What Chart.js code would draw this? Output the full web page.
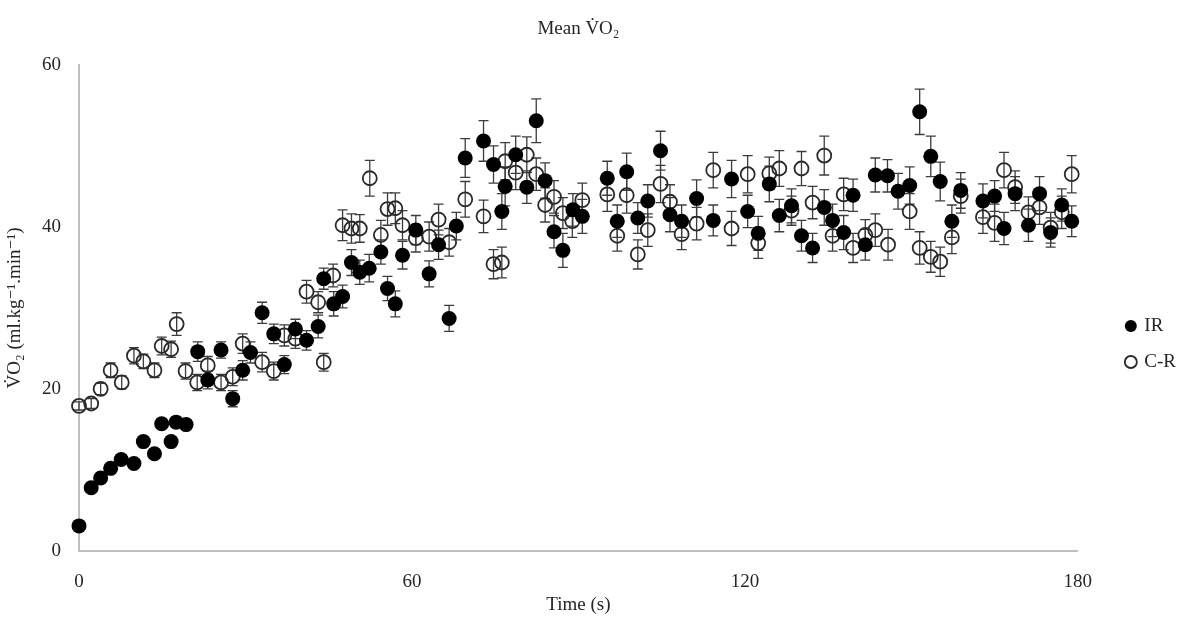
<!DOCTYPE html>
<html>
<head>
<meta charset="utf-8">
<title>Mean VO2</title>
<script src="https://cdn.jsdelivr.net/npm/chart.js@4.4.1/dist/chart.umd.min.js"></script>
<style>
  html, body { margin: 0; padding: 0; background: #fff; }
  #wrap { width: 1190px; height: 626px; }
</style>
</head>
<body>
<div id="wrap"><canvas id="vo2Chart"></canvas></div>
<script>
// IR series: time (s), mean VO2, SD
const irTime = [0.0, 2.2, 3.9, 5.7, 7.6, 9.9, 11.6, 13.6, 14.9, 16.6, 17.5, 19.3,
  21.4, 23.2, 25.6, 27.7, 29.5, 30.9, 33.0, 35.1, 37.0, 39.0, 41.0, 43.1, 44.1,
  45.9, 47.5, 49.1, 50.6, 52.3, 54.4, 55.6, 57.0, 58.3, 60.7, 63.1, 64.8, 66.7, 68.0,
  69.6, 72.9, 74.7, 76.2, 76.8, 78.7, 80.7, 82.4, 84.0, 85.6, 87.2, 89.0, 90.7,
  95.2, 97.0, 98.7, 100.7, 102.5, 104.8, 106.5, 108.6, 111.3, 114.3, 117.6, 120.5,
  122.4, 124.4, 126.2, 128.4, 130.2, 132.2, 134.3, 135.8, 137.8, 139.5, 141.7, 143.5,
  145.7, 147.6, 149.7, 151.5, 153.5, 155.2, 157.3, 158.9, 162.9, 165.0, 166.7, 168.7,
  171.1, 173.1, 175.1, 177.1, 178.9];
const irVO2 = [3.1, 7.8, 9.0, 10.2, 11.3, 10.8, 13.5, 12.0, 15.7, 13.5, 15.9, 15.6,
  24.6, 21.1, 24.8, 18.8, 22.3, 24.5, 29.4, 26.8, 23.0, 27.4, 26.0, 27.7, 33.6,
  30.5, 31.4, 35.6, 34.4, 34.9, 36.9, 32.4, 30.5, 36.5, 39.6, 34.2, 37.8, 28.7, 40.1,
  48.5, 50.6, 47.7, 41.9, 45.0, 48.9, 44.9, 53.1, 45.7, 39.4, 37.1, 42.1, 41.3,
  46.0, 40.7, 46.8, 41.1, 43.2, 49.4, 41.5, 40.7, 43.5, 40.8, 45.9, 41.9,
  39.2, 45.3, 41.4, 42.6, 38.9, 37.4, 42.4, 40.8, 39.3, 43.9, 37.8, 46.4,
  46.3, 44.4, 45.1, 54.2, 48.7, 45.6, 40.7, 44.5, 43.2, 43.8, 39.8, 44.1,
  40.2, 44.1, 39.3, 42.7, 40.7];
const irSD = [0.4, 0.5, 0.5, 0.5, 0.6, 0.5, 0.6, 0.5, 0.6, 0.6, 0.6, 0.6,
  1.2, 1.1, 1.0, 1.0, 1.2, 1.3, 1.3, 1.2, 1.1, 1.2, 1.2, 1.4, 1.3,
  1.5, 1.4, 1.6, 1.5, 1.7, 1.5, 1.5, 1.6, 1.7, 1.8, 1.6, 1.8, 1.6, 1.7,
  2.4, 2.5, 2.3, 2.2, 2.4, 2.3, 2.0, 2.7, 2.2, 2.0, 2.1, 2.0, 2.1,
  2.1, 2.0, 2.3, 1.9, 2.0, 2.4, 2.1, 2.0, 2.3, 1.9, 2.3, 2.0,
  2.1, 2.2, 2.0, 2.1, 1.9, 1.8, 2.2, 2.0, 2.1, 2.0, 1.9, 2.1,
  2.0, 2.2, 2.3, 2.8, 2.5, 2.4, 2.0, 2.2, 2.1, 1.9, 2.0, 2.1,
  2.0, 2.1, 1.8, 2.0, 1.9];

// C-R series: time (s), mean VO2, SD
const crTime = [0.0, 2.2, 3.9, 5.7, 7.7, 9.9, 11.6, 13.6, 14.9, 16.6, 17.6, 19.2,
  21.3, 23.2, 25.6, 27.7, 29.5, 33.0, 35.1, 37.0, 39.0, 41.0, 43.1, 44.1, 45.8,
  47.5, 49.1, 50.6, 52.4, 54.4, 55.6, 57.0, 58.3, 60.7, 63.1, 64.8, 66.7,
  69.6, 72.9, 74.7, 76.2, 76.8, 78.7, 80.7, 82.4, 84.0, 85.6, 87.2, 88.9, 90.7,
  95.2, 97.0, 98.7, 100.7, 102.5, 104.8, 106.5, 108.6, 111.3, 114.3, 117.6, 120.5,
  122.4, 124.4, 126.2, 128.4, 130.2, 132.2, 134.3, 135.8, 137.8, 139.5, 141.7, 143.5,
  145.8, 149.7, 151.5, 153.5, 155.2, 157.3, 158.9, 162.9, 165.0, 166.7, 168.7,
  171.1, 173.1, 175.1, 177.1, 178.9];
const crVO2 = [17.9, 18.2, 20.0, 22.3, 20.8, 24.1, 23.4, 22.3, 25.3, 24.9, 28.0, 22.2,
  20.8, 22.9, 20.8, 21.5, 25.6, 23.3, 22.2, 26.6, 26.2, 32.0, 30.7, 23.3, 34.0,
  40.2, 39.8, 39.8, 46.0, 39.0, 42.2, 42.3, 40.2, 38.6, 38.8, 40.9, 38.1,
  43.4, 41.3, 35.4, 35.6, 48.1, 46.7, 48.9, 46.5, 42.7, 43.7, 41.7, 40.7, 43.3,
  44.0, 38.9, 43.9, 36.6, 39.6, 45.3, 43.1, 39.1, 40.4, 47.0, 39.8, 46.5,
  38.0, 46.6, 47.2, 42.0, 47.2, 43.0, 48.8, 38.9, 44.0, 37.4, 39.0, 39.6,
  37.8, 41.9, 37.4, 36.3, 35.7, 38.7, 43.8, 41.2, 40.5, 47.0, 44.9,
  41.8, 42.4, 39.9, 41.8, 46.5];
const crSD = [0.5, 0.6, 0.7, 0.9, 0.8, 1.0, 0.9, 0.9, 1.1, 1.0, 1.4, 1.0,
  1.0, 1.1, 1.0, 1.1, 1.2, 1.2, 1.1, 1.3, 1.2, 1.4, 1.3, 1.1, 1.4,
  1.9, 1.8, 1.7, 2.2, 1.8, 2.0, 1.9, 1.8, 1.7, 1.8, 1.9, 1.7,
  2.2, 2.0, 1.8, 1.9, 2.3, 2.1, 2.2, 2.0, 2.1, 2.0, 1.9, 2.0, 2.1,
  2.1, 1.9, 2.2, 1.8, 2.0, 2.3, 2.1, 1.9, 2.0, 2.2, 2.1, 2.3,
  1.9, 2.0, 2.2, 1.8, 2.1, 2.0, 2.4, 1.9, 2.0, 1.8, 1.9, 2.0,
  1.9, 2.2, 2.0, 1.9, 1.8, 2.0, 2.1, 2.0, 2.3, 2.2, 2.0,
  1.9, 2.1, 1.9, 2.0, 2.3];

const xTicks = [0, 60, 120, 180];
const yTicks = [0, 20, 40, 60];

const serif = "'Liberation Serif', 'DejaVu Serif', serif";
const textColor = '#262626';
const axisColor = '#bfbfbf';

function toPoints(times, values) {
  return times.map((t, i) => ({ x: t, y: values[i] }));
}

// error bars (+/- SD), drawn under the markers so filled dots hide their own bar
const errorBars = {
  id: 'errorBars',
  beforeDatasetsDraw(chart) {
    const ctx = chart.ctx;
    const xs = chart.scales.x;
    const ys = chart.scales.y;
    ctx.save();
    ctx.strokeStyle = '#3c3c3c';
    ctx.lineWidth = 1.3;
    chart.data.datasets.forEach((ds, i) => {
      if (!chart.isDatasetVisible(i)) return;
      ds.data.forEach((p, j) => {
        const e = ds.sd[j];
        const x = xs.getPixelForValue(p.x);
        const hi = ys.getPixelForValue(p.y + e);
        const lo = ys.getPixelForValue(p.y - e);
        ctx.beginPath();
        ctx.moveTo(x, hi); ctx.lineTo(x, lo);
        ctx.moveTo(x - 5, hi); ctx.lineTo(x + 5, hi);
        ctx.moveTo(x - 5, lo); ctx.lineTo(x + 5, lo);
        ctx.stroke();
      });
    });
    ctx.restore();
  }
};

// push the legend a bit right and down, where Excel put it
const legendNudge = {
  id: 'legendNudge',
  afterLayout(chart) {
    const lg = chart.legend;
    if (!lg) return;
    lg.left += 32; lg.right += 32;
    lg.top += 31; lg.bottom += 31;
  }
};

new Chart(document.getElementById('vo2Chart'), {
  type: 'scatter',
  data: {
    datasets: [
      {
        label: 'IR',
        data: toPoints(irTime, irVO2),
        sd: irSD,
        pointStyle: 'circle',
        pointRadius: 7.5,
        backgroundColor: '#000000',
        borderColor: '#000000',
        borderWidth: 0,
        pointBorderWidth: 0,
        clip: false
      },
      {
        label: 'C-R',
        data: toPoints(crTime, crVO2),
        sd: crSD,
        pointStyle: 'circle',
        pointRadius: 7,
        backgroundColor: 'rgba(0,0,0,0)',
        borderColor: '#2a2a2a',
        borderWidth: 1.3,
        pointBorderWidth: 1.8,
        clip: false
      }
    ]
  },
  options: {
    responsive: true,
    maintainAspectRatio: false,
    devicePixelRatio: 1,
    animation: false,
    events: [],
    layout: { padding: { left: 0, right: 36, top: 0, bottom: 0 } },
    plugins: {
      title: {
        display: true,
        fullSize: false,
        text: 'Mean V\u0307O\u2082',
        color: textColor,
        font: { family: serif, size: 19, weight: 'normal' },
        padding: { top: 18, bottom: 24 }
      },
      legend: {
        position: 'right',
        align: 'center',
        labels: {
          usePointStyle: true,
          boxWidth: 8,
          boxHeight: 8.5,
          padding: 17,
          color: textColor,
          font: { family: serif, size: 19 }
        }
      },
      tooltip: { enabled: false }
    },
    scales: {
      x: {
        type: 'linear',
        min: 0,
        max: 180,
        afterBuildTicks: s => { s.ticks = xTicks.map(v => ({ value: v })); },
        afterFit: s => { s.height = 75; },
        grid: { display: false },
        border: { color: axisColor, width: 2 },
        ticks: { padding: 12, color: textColor, font: { family: serif, size: 19 } },
        title: {
          display: true,
          text: 'Time (s)',
          color: textColor,
          font: { family: serif, size: 19 },
          padding: { top: 0, bottom: 10 }
        }
      },
      y: {
        type: 'linear',
        min: 0,
        max: 60,
        afterBuildTicks: s => { s.ticks = yTicks.map(v => ({ value: v })); },
        afterFit: s => { s.width = 79; },
        grid: { display: false },
        border: { color: axisColor, width: 2 },
        ticks: { padding: 10, color: textColor, font: { family: serif, size: 19 } },
        title: {
          display: true,
          text: 'V\u0307O\u2082 (ml.kg\u207B\u00B9.min\u207B\u00B9)',
          color: textColor,
          font: { family: serif, size: 19 },
          padding: { top: 4, bottom: 0 }
        }
      }
    }
  },
  plugins: [errorBars, legendNudge]
});
</script>
</body>
</html>
